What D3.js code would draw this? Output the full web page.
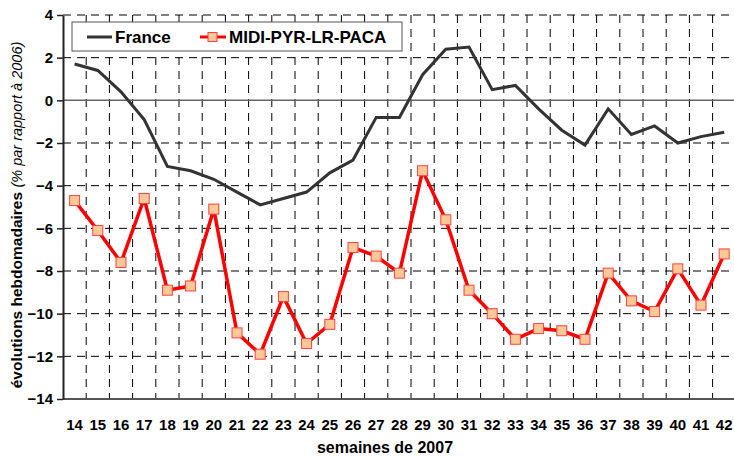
<!DOCTYPE html>
<html>
<head>
<meta charset="utf-8">
<script src="https://cdn.jsdelivr.net/npm/d3@7"></script>
<style>
  body { margin: 0; background: #fff; }
  text { font-family: "Liberation Sans", Arial, sans-serif; }
</style>
</head>
<body>
<div id="chart"></div>
<script>
const svgWidth = 734
const svgHeight = 457

const weeks = [14, 15, 16, 17, 18, 19, 20, 21, 22, 23, 24, 25, 26, 27, 28,
  29, 30, 31, 32, 33, 34, 35, 36, 37, 38, 39, 40, 41, 42]
const france = [1.7, 1.4, 0.4, -0.9, -3.1, -3.3, -3.7, -4.3, -4.9, -4.6, -4.3, -3.4, -2.8, -0.8, -0.8,
  1.2, 2.4, 2.5, 0.5, 0.7, -0.4, -1.4, -2.1, -0.4, -1.6, -1.2, -2.0, -1.7, -1.5]
const midi = [-4.7, -6.1, -7.6, -4.6, -8.9, -8.7, -5.1, -10.9, -11.9, -9.2, -11.4, -10.5, -6.9, -7.3, -8.1,
  -3.3, -5.6, -8.9, -10.0, -11.2, -10.7, -10.8, -11.2, -8.1, -9.4, -9.9, -7.9, -9.6, -7.2]
const yTicks = [4, 2, 0, -2, -4, -6, -8, -10, -12, -14]

let margin = { top: 15, left: 63, bottom: 58 }
let bandW = 23.2
let plotBottom = svgHeight - margin.bottom

let svg = d3.select("#chart")
  .append("svg")
  .attr("width", svgWidth)
  .attr("height", svgHeight)

let x = d3.scaleBand()
  .domain(weeks)
  .range([margin.left, margin.left + bandW * weeks.length])
let y = d3.scaleLinear()
  .domain([-14, 4])
  .range([plotBottom, margin.top])

// horizontal grid
svg.append("g")
  .selectAll("line")
  .data(yTicks.filter(d => d !== 0 && d !== -14))
  .enter()
  .append("line")
  .attr("x1", margin.left)
  .attr("x2", svgWidth)
  .attr("y1", d => y(d))
  .attr("y2", d => y(d))
  .attr("stroke", "#000")
  .attr("stroke-width", 1)
  .attr("stroke-dasharray", "8,6")

// vertical grid at band edges
svg.append("g")
  .selectAll("line")
  .data(weeks.slice(1))
  .enter()
  .append("line")
  .attr("x1", d => x(d))
  .attr("x2", d => x(d))
  .attr("y1", margin.top)
  .attr("y2", plotBottom)
  .attr("stroke", "#000")
  .attr("stroke-width", 1)
  .attr("stroke-dasharray", "8,6")

// zero line
svg.append("line")
  .attr("x1", margin.left)
  .attr("x2", svgWidth)
  .attr("y1", y(0))
  .attr("y2", y(0))
  .attr("stroke", "#666")
  .attr("stroke-width", 1.5)

// bottom line
svg.append("line")
  .attr("x1", margin.left)
  .attr("x2", svgWidth)
  .attr("y1", plotBottom)
  .attr("y2", plotBottom)
  .attr("stroke", "#555")
  .attr("stroke-width", 2)

// y axis
let yAxis = svg.append("g")
  .attr("transform", `translate(${margin.left}, 0)`)
  .call(d3.axisLeft(y).tickValues(yTicks).tickSize(6).tickSizeOuter(0).tickPadding(4))
yAxis.select(".domain").attr("stroke", "#222").attr("stroke-width", 2)
yAxis.selectAll(".tick line").attr("stroke", "#222").attr("stroke-width", 1.5)
yAxis.selectAll(".tick text")
  .style("font-family", "'Liberation Sans', Arial, sans-serif")
  .style("font-size", "15px")
  .style("font-weight", "bold")
  .attr("fill", "#000")

// x tick labels
svg.append("g")
  .selectAll("text")
  .data(weeks)
  .enter()
  .append("text")
  .attr("x", d => x(d) + x.bandwidth() / 2)
  .attr("y", 430)
  .attr("text-anchor", "middle")
  .style("font-size", "15px")
  .style("font-weight", "bold")
  .text(d => d)

svg.append("text")
  .attr("x", 385)
  .attr("y", 453)
  .attr("text-anchor", "middle")
  .style("font-size", "16px")
  .style("font-weight", "bold")
  .text("semaines de 2007")

let yLabel = svg.append("text")
  .attr("transform", "translate(22, 215) rotate(-90)")
  .attr("text-anchor", "middle")
yLabel.append("tspan")
  .style("font-size", "15.5px")
  .style("font-weight", "bold")
  .text("évolutions hebdomadaires ")
yLabel.append("tspan")
  .style("font-size", "14.5px")
  .style("font-style", "italic")
  .text("(% par rapport à 2006)")

// lines
let line = d3.line()
  .x((d, i) => x(weeks[i]) + x.bandwidth() / 2)
  .y(d => y(d))

svg.append("path")
  .datum(france)
  .attr("d", line)
  .attr("fill", "none")
  .attr("stroke", "#333")
  .attr("stroke-width", 3)

svg.append("path")
  .datum(midi)
  .attr("d", line)
  .attr("fill", "none")
  .attr("stroke", "#ff0000")
  .attr("stroke-width", 3.5)

svg.append("g")
  .selectAll("rect")
  .data(midi)
  .enter()
  .append("rect")
  .attr("x", (d, i) => x(weeks[i]) + x.bandwidth() / 2 - 5)
  .attr("y", d => y(d) - 5)
  .attr("width", 10)
  .attr("height", 10)
  .attr("fill", "#ffc896")
  .attr("stroke", "#ff4040")
  .attr("stroke-width", 1)

// legend
svg.append("rect")
  .attr("x", 72)
  .attr("y", 22)
  .attr("width", 330)
  .attr("height", 29)
  .attr("fill", "#fff")
  .attr("stroke", "#555")
  .attr("stroke-width", 1)
svg.append("line")
  .attr("x1", 87).attr("x2", 112)
  .attr("y1", 37).attr("y2", 37)
  .attr("stroke", "#333").attr("stroke-width", 3)
svg.append("text")
  .attr("x", 115).attr("y", 43)
  .style("font-size", "17px").style("font-weight", "bold")
  .text("France")
svg.append("line")
  .attr("x1", 200).attr("x2", 226)
  .attr("y1", 37).attr("y2", 37)
  .attr("stroke", "#ff0000").attr("stroke-width", 3)
svg.append("rect")
  .attr("x", 208).attr("y", 32.5)
  .attr("width", 9).attr("height", 9)
  .attr("fill", "#ffc896").attr("stroke", "#ff4040")
svg.append("text")
  .attr("x", 229).attr("y", 43)
  .style("font-size", "17px").style("font-weight", "bold")
  .text("MIDI-PYR-LR-PACA")
</script>
</body>
</html>
